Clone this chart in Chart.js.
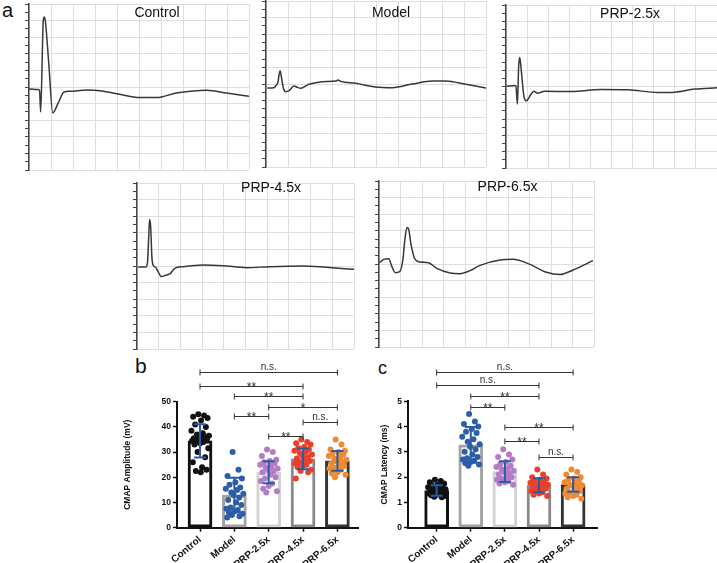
<!DOCTYPE html>
<html>
<head>
<meta charset="utf-8">
<script src="https://cdn.jsdelivr.net/npm/chart.js@4.4.1/dist/chart.umd.min.js"></script>
<style>
  html, body { margin: 0; padding: 0; background: #fff; }
  #fig { position: relative; width: 717px; height: 563px; overflow: hidden;
         font-family: 'Liberation Sans', Arial, sans-serif; color: #111; }
  #fig canvas { position: absolute; }
  .lbl { position: absolute; line-height: 1; white-space: nowrap; }
  .ttl { position: absolute; line-height: 1; font-size: 14px; white-space: nowrap;
         transform: translate(-50%, -50%); }
</style>
</head>
<body>
<div id="fig">
  <div class="lbl" style="left:2px;top:0px;font-size:20px">a</div>
  <div class="lbl" style="left:135px;top:355px;font-size:21px">b</div>
  <div class="lbl" style="left:378px;top:359px;font-size:18px">c</div>
</div>
<script>
'use strict';

/* ─── Data ───────────────────────────────────────────────── */
const GROUPS = ['Control', 'Model', 'PRP-2.5x', 'PRP-4.5x', 'PRP-6.5x'];

// CMAP traces: x in grid divisions (0-10), y in divisions from the centre line
const controlX = [0, 0.4, 0.48, 0.53, 0.65, 0.70, 0.75, 0.9, 1.08, 1.33, 1.59, 1.86, 2.62, 3.23, 3.98, 5.05, 5.8, 6.7, 7.47, 8.08, 8.98, 10];
const controlY = [-0.12, -0.15, -0.2, -1.5, 4.0, 4.22, 3.9, 1.4, -1.56, -0.96, -0.3, -0.26, -0.18, -0.22, -0.4, -0.64, -0.64, -0.36, -0.24, -0.2, -0.36, -0.56];

const modelX = [0.06, 0.36, 0.47, 0.53, 0.64, 0.71, 0.79, 0.89, 1.05, 1.27, 1.42, 1.58, 1.95, 2.56, 3.17, 3.27, 3.39, 4.08, 4.98, 5.74, 6.65, 7.56, 8.17, 9.08, 10];
const modelY = [-0.24, -0.22, -0.06, 0.04, 0.8, 0.34, -0.26, -0.46, -0.4, -0.12, -0.2, -0.26, -0.02, 0.14, 0.18, 0.24, 0.16, 0.04, -0.18, -0.22, 0, 0.18, 0.18, -0.02, -0.24];

const prp25X = [0.02, 0.41, 0.47, 0.54, 0.6, 0.65, 0.69, 0.85, 0.96, 1.17, 1.31, 1.49, 1.83, 3.1, 4.52, 5.78, 7.2, 7.99, 8.94, 10];
const prp25Y = [0.02, 0.06, 0.04, -1.07, 1.23, 1.78, 1.43, -0.61, -0.88, -0.51, -0.29, -0.41, -0.29, -0.31, -0.18, -0.2, -0.37, -0.35, -0.16, -0.08];

const prp45X = [0.05, 0.4, 0.48, 0.54, 0.58, 0.63, 0.69, 0.77, 0.86, 0.97, 1.12, 1.35, 1.51, 1.74, 2.12, 3.04, 3.96, 5.04, 6.11, 7.65, 8.72, 10];
const prp45Y = [-0.06, -0.06, 0.16, 1.76, 2.8, 2.36, 0.46, 0, -0.08, -0.34, -0.64, -0.54, -0.48, -0.14, -0.04, 0.06, 0.02, -0.1, -0.04, 0, -0.08, -0.2];

const prp65X = [0.02, 0.22, 0.45, 0.6, 0.76, 0.96, 1.11, 1.2, 1.3, 1.39, 1.48, 1.68, 1.92, 2.3, 2.69, 3.31, 3.77, 4.23, 4.7, 5.63, 6.24, 7.02, 7.79, 8.41, 9.03, 9.95];
const prp65Y = [0.08, 0.28, 0.32, -0.16, -0.52, -0.46, 0.24, 1.44, 2.2, 2.04, 1.24, 0.28, 0.12, 0.08, -0.26, -0.54, -0.58, -0.4, -0.08, 0.24, 0.28, -0.02, -0.5, -0.64, -0.36, 0.2];

// CMAP amplitude (mV)
const ampMean = [34.5, 12.9, 22.0, 27.3, 26.5];
const ampSd = [6.6, 6.9, 4.4, 4.1, 3.9];
const ampControl = [45, 44.5, 44, 43.5, 42.5, 41, 40, 38.5, 37.5, 37, 36.5, 36, 36, 35.5, 35.5, 35, 35, 34.5, 34, 33.5, 33, 31.5, 30, 28, 26, 24, 23, 22.5, 22];
const ampModel = [30, 23, 20.5, 19.5, 18, 17, 16, 15.5, 15, 14, 13.5, 13, 12, 11, 10, 9, 8, 7.5, 7, 6.5, 6, 5.5, 5, 4.5, 4];
const ampPrp25 = [31, 30, 28.5, 27, 26.5, 26, 25.5, 25, 24.5, 24, 23.5, 23, 22.5, 22, 21, 20, 19.5, 18.5, 17.5, 16.5, 15.5, 14.5, 14];
const ampPrp45 = [35, 34, 33.5, 33, 32, 31.5, 31, 30.5, 30, 29.5, 29, 28.5, 28, 27.5, 27, 26.5, 26, 25.5, 25, 24.5, 24, 23, 22.5, 22, 19.5];
const ampPrp65 = [35, 33, 31, 30.5, 30, 29.5, 29, 28.5, 28, 27.5, 27, 26.5, 26, 25.5, 25, 24.5, 24, 23.5, 23, 22, 21.5, 21, 20];
// [from group, to group, bracket height, label]
const ampSig = [[0, 4, 61.9, 'n.s.'], [0, 3, 56.3, '**'], [1, 3, 52.4, '**'], [2, 4, 48, '*'], [1, 2, 44.4, '**'], [3, 4, 42, 'n.s.'], [2, 3, 36.5, '**']];

// CMAP latency (ms)
const latMean = [1.47, 3.28, 2.22, 1.68, 1.71];
const latSd = [0.21, 0.7, 0.41, 0.28, 0.29];
const latControl = [1.9, 1.85, 1.8, 1.75, 1.7, 1.68, 1.65, 1.6, 1.58, 1.55, 1.52, 1.5, 1.48, 1.45, 1.42, 1.4, 1.38, 1.35, 1.32, 1.3, 1.28, 1.25, 1.22, 1.2];
const latModel = [4.5, 4.2, 4.1, 4.0, 3.9, 3.8, 3.75, 3.6, 3.5, 3.4, 3.3, 3.2, 3.1, 3.0, 2.9, 2.8, 2.75, 2.7, 2.65, 2.6, 2.55, 2.5, 2.45];
const latPrp25 = [3.1, 2.9, 2.8, 2.7, 2.6, 2.5, 2.45, 2.4, 2.35, 2.3, 2.25, 2.2, 2.15, 2.1, 2.05, 2.0, 1.95, 1.9, 1.85, 1.8, 1.75, 1.7];
const latPrp45 = [2.3, 2.1, 2.0, 1.95, 1.9, 1.85, 1.8, 1.78, 1.75, 1.72, 1.7, 1.68, 1.65, 1.62, 1.6, 1.55, 1.5, 1.45, 1.4, 1.35, 1.3, 1.25];
const latPrp65 = [2.3, 2.2, 2.1, 2.0, 1.95, 1.9, 1.85, 1.8, 1.75, 1.7, 1.68, 1.65, 1.6, 1.55, 1.5, 1.45, 1.4, 1.35, 1.3, 1.25, 1.2, 1.15];
const latSig = [[0, 4, 6.14, 'n.s.'], [0, 3, 5.63, 'n.s.'], [1, 3, 5.2, '**'], [1, 2, 4.76, '**'], [2, 4, 3.98, '**'], [2, 3, 3.43, '**'], [3, 4, 2.8, 'n.s.']];

// horizontal spread of the dots around each bar (in groups)
const JITTER = [-0.05, 0.12, -0.2, 0.22, 0.03, -0.14, 0.17, -0.25, 0.08, -0.09, 0.26, -0.02, 0.14, -0.18, 0.05, 0.2, -0.11, -0.23, 0.1, 0.0, -0.16, 0.24, -0.07, 0.15, -0.21, 0.06, 0.19, -0.12, 0.02, -0.04];

/* ─── Styles ─────────────────────────────────────────────── */
const FONT = "'Liberation Sans', Arial, sans-serif";
const DOT_COLORS = ['#111111', '#2d5ea8', '#b47cc6', '#e8412b', '#ee8a33'];
const BAR_EDGES = ['#111111', '#a3a3a3', '#d2d2d2', '#8a8a8a', '#333333'];
const ERR_COLOR = '#2b5ba6';
const GRID = '#dedede';

Chart.defaults.font.family = FONT;
Chart.defaults.color = '#111';

const FIG = document.getElementById('fig');

/* ─── Plugins ────────────────────────────────────────────── */
const errorBarPlugin = {
  id: 'errorBars',
  afterDatasetsDraw(chart, args, opts) {
    const { ctx, scales: { x, y } } = chart;
    ctx.save();
    ctx.strokeStyle = ERR_COLOR;
    ctx.lineWidth = 2;
    opts.mean.forEach((m, i) => {
      const px = x.getPixelForValue(i);
      const top = y.getPixelForValue(m + opts.sd[i]);
      const bot = y.getPixelForValue(m - opts.sd[i]);
      ctx.beginPath();
      ctx.moveTo(px, top); ctx.lineTo(px, bot);
      ctx.moveTo(px - 6, top); ctx.lineTo(px + 6, top);
      ctx.moveTo(px - 6, bot); ctx.lineTo(px + 6, bot);
      ctx.stroke();
    });
    ctx.restore();
  },
};

const bracketPlugin = {
  id: 'sigBrackets',
  afterDraw(chart, args, opts) {
    const { ctx, scales: { x, y } } = chart;
    ctx.save();
    ctx.strokeStyle = '#333';
    ctx.fillStyle = '#333';
    ctx.lineWidth = 1;
    ctx.textAlign = 'center';
    ctx.textBaseline = 'alphabetic';
    opts.items.forEach(([a, b, h, txt]) => {
      const x1 = x.getPixelForValue(a);
      const x2 = x.getPixelForValue(b);
      const py = Math.round(y.getPixelForValue(h)) + 0.5;
      ctx.beginPath();
      ctx.moveTo(x1, py); ctx.lineTo(x2, py);
      ctx.moveTo(x1, py - 3); ctx.lineTo(x1, py + 3);
      ctx.moveTo(x2, py - 3); ctx.lineTo(x2, py + 3);
      ctx.stroke();
      const star = txt[0] === '*';
      ctx.font = (star ? '12px ' : '10px ') + FONT;
      ctx.fillText(txt, (x1 + x2) / 2, star ? py + 4.5 : py - 2.5);
    });
    ctx.restore();
  },
};

/* ─── Trace panels (a) ───────────────────────────────────── */
const TRACE_PANELS = [
  { title: GROUPS[0], xs: controlX, ys: controlY, area: [29, 3.5, 249, 170], titleAt: [157, 12] },
  { title: GROUPS[1], xs: modelX, ys: modelY, area: [265.5, 0.7, 485.5, 167.3], titleAt: [391, 12] },
  { title: GROUPS[2], xs: prp25X, ys: prp25Y, area: [506.3, 5.3, 717.3, 168], titleAt: [630, 12.5] },
  { title: GROUPS[3], xs: prp45X, ys: prp45Y, area: [137.3, 182.7, 354.3, 349.3], titleAt: [271, 187] },
  { title: GROUPS[4], xs: prp65X, ys: prp65Y, area: [378.7, 180.7, 594.4, 347.3], titleAt: [507.5, 186] },
];

function traceChart(p) {
  const [l, t, r, b] = p.area;
  const cv = document.createElement('canvas');
  const left = Math.round(l) - 5;
  const top = Math.round(t) - 1;
  cv.width = Math.round(r) + 1 - left;
  cv.height = Math.round(b) + 1 - top;
  cv.style.left = left + 'px';
  cv.style.top = top + 'px';
  FIG.appendChild(cv);

  const ttl = document.createElement('div');
  ttl.className = 'ttl';
  ttl.textContent = p.title;
  ttl.style.left = p.titleAt[0] + 'px';
  ttl.style.top = p.titleAt[1] + 'px';
  FIG.appendChild(ttl);

  new Chart(cv, {
    type: 'line',
    data: {
      datasets: [{
        data: p.xs.map((x, i) => ({ x, y: p.ys[i] })),
        borderColor: '#383838',
        borderWidth: 1.5,
        pointRadius: 0,
        cubicInterpolationMode: 'monotone',
      }],
    },
    options: {
      responsive: false,
      animation: false,
      events: [],
      layout: { padding: { top: 1, right: 1, bottom: 1, left: 0 } },
      plugins: { legend: { display: false }, tooltip: { enabled: false } },
      scales: {
        x: {
          type: 'linear', min: 0, max: 10,
          ticks: { display: false, stepSize: 1 },
          grid: { color: GRID, drawTicks: false },
          border: { display: false },
          afterFit: (s) => { s.height = 0; },
        },
        y: {
          type: 'linear', min: -5, max: 5,
          ticks: { display: false, stepSize: 0.5 },
          grid: {
            color: (c) => (Number.isInteger(c.tick.value) ? GRID : 'rgba(0,0,0,0)'),
            tickColor: '#444', tickLength: 4, tickWidth: 1,
          },
          border: { color: '#444', width: 1.5 },
          afterFit: (s) => { s.width = 5; },
        },
      },
    },
  });
}

/* ─── Bar + dot panels (b, c) ────────────────────────────── */
function barPanel(cfg) {
  const [cl, ct, cw, ch] = cfg.canvas;
  const [l, t, r, b] = cfg.area;
  const cv = document.createElement('canvas');
  cv.width = cw; cv.height = ch;
  cv.style.left = cl + 'px';
  cv.style.top = ct + 'px';
  FIG.appendChild(cv);

  const dots = cfg.groups.map((vals, i) => ({
    type: 'scatter',
    data: vals.map((v, j) => ({ x: i + JITTER[j % JITTER.length], y: v })),
    backgroundColor: DOT_COLORS[i],
    borderWidth: 0,
    pointRadius: 3,
    order: 1,
  }));

  new Chart(cv, {
    type: 'bar',
    data: {
      datasets: [{
        type: 'bar',
        data: cfg.mean.map((v, i) => ({ x: i, y: v })),
        backgroundColor: '#ffffff',
        borderColor: BAR_EDGES,
        borderWidth: 3,
        borderSkipped: false,
        barThickness: 24,
        order: 2,
      }, ...dots],
    },
    options: {
      responsive: false,
      animation: false,
      events: [],
      layout: { autoPadding: false, padding: { left: cfg.axisLeft - cl, top: t - ct, right: cl + cw - r, bottom: 0 } },
      plugins: {
        legend: { display: false },
        tooltip: { enabled: false },
        errorBars: { mean: cfg.mean, sd: cfg.sd },
        sigBrackets: { items: cfg.sig },
      },
      scales: {
        x: {
          type: 'linear', min: cfg.xMin, max: cfg.xMax, offset: false,
          ticks: {
            stepSize: 1, includeBounds: false, autoSkip: false,
            minRotation: 40, maxRotation: 40, padding: 2,
            font: { size: 10, weight: 'bold' },
            callback: (v) => GROUPS[v],
          },
          grid: { offset: false, drawOnChartArea: false, tickColor: '#111', tickLength: 4, tickWidth: 1.5 },
          border: { color: '#111', width: 2 },
          afterFit: (s) => { s.height = ct + ch - b; },
        },
        y: {
          type: 'linear', min: 0, max: cfg.yMax,
          ticks: { stepSize: cfg.yStep, padding: 2, font: { size: 8.5, weight: 'bold' } },
          grid: { drawOnChartArea: false, tickColor: '#111', tickLength: 4, tickWidth: 1.5 },
          border: { color: '#111', width: 2 },
          title: { display: true, text: cfg.title, font: { size: 8.5, weight: 'bold' }, padding: { top: 3, bottom: 0 } },
          afterFit: (s) => { s.width = l - cfg.axisLeft; },
        },
      },
    },
    plugins: [errorBarPlugin, bracketPlugin],
  });
}

TRACE_PANELS.forEach(traceChart);

barPanel({
  canvas: [100, 340, 270, 223], area: [177, 401.7, 358, 527.7], axisLeft: 120,
  xMin: -0.67, xMax: 4.6, yMax: 50, yStep: 10,
  title: 'CMAP Amplitude (mV)',
  mean: ampMean, sd: ampSd,
  groups: [ampControl, ampModel, ampPrp25, ampPrp45, ampPrp65],
  sig: ampSig,
});

barPanel({
  canvas: [370, 340, 250, 223], area: [408, 401.3, 597, 527.7], axisLeft: 377,
  xMin: -0.84, xMax: 4.7, yMax: 5, yStep: 1,
  title: 'CMAP Latency (ms)',
  mean: latMean, sd: latSd,
  groups: [latControl, latModel, latPrp25, latPrp45, latPrp65],
  sig: latSig,
});
</script>
</body>
</html>
